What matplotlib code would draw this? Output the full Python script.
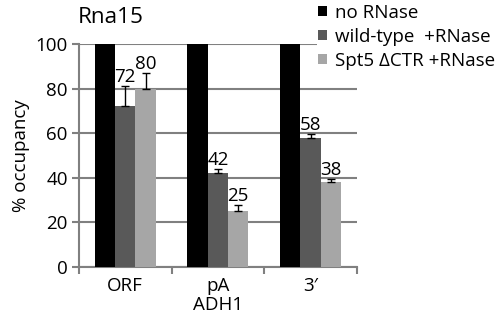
import numpy as np
import matplotlib as mpl
mpl.use("Agg")
import matplotlib.pyplot as plt

mpl.rcParams.update({
    "font.family": ["Open Sans", "DejaVu Sans"],
    "font.size": 13.5,
})

# data
regions = ["ORF", "pA", "3\u2032"]
series = ["no RNase", "wild-type  +RNase", "Spt5 \u0394CTR +RNase"]
no_rnase = [100, 100, 100]
wild_type = [72, 42, 58]
spt5 = [80, 25, 38]
wt_err = [9, 2, 1.5]
spt5_err = [7, 3, 1.5]
colors = ["#000000", "#595959", "#a6a6a6"]

fig = plt.figure(figsize=(5.02, 3.24), dpi=100)
ax = fig.add_axes([0.157, 0.176, 0.554, 0.688])

x = np.arange(len(regions))
w = 0.22
ax.bar(x - w, no_rnase, w, color=colors[0], label=series[0], zorder=3)
ax.bar(x, wild_type, w, color=colors[1], label=series[1], zorder=3)
ax.bar(x + w, spt5, w, color=colors[2], label=series[2], zorder=3)

ax.errorbar(x, wild_type, yerr=[np.zeros(3), wt_err], fmt="none", ecolor="black",
            elinewidth=1, capsize=3, capthick=1, zorder=4)
ax.errorbar(x + w, spt5, yerr=[np.zeros(3), spt5_err], fmt="none", ecolor="black",
            elinewidth=1, capsize=3, capthick=1, zorder=4)

for xi, v, e in zip(x, wild_type, wt_err):
    ax.text(xi, v + e, str(v), ha="center", va="bottom")
for xi, v, e in zip(x + w, spt5, spt5_err):
    ax.text(xi, v + e, str(v), ha="center", va="bottom")

ax.set_xlim(-0.5, 2.5)
ax.set_ylim(0, 100)
ax.set_yticks([0, 20, 40, 60, 80, 100])
ax.set_xticks(x)
ax.set_xticklabels(regions)
ax.set_xticks([-0.5, 0.5, 1.5, 2.5], minor=True)
ax.tick_params(axis="x", which="major", length=0, pad=7)
ax.tick_params(axis="x", which="minor", length=5, color="#808080", width=1.5)
ax.tick_params(axis="y", length=5, color="#808080", width=1.5, pad=3)

ax.yaxis.grid(True, color="#808080", linewidth=1.5, zorder=0)
for s in ["top", "right"]:
    ax.spines[s].set_visible(False)
for s in ["left", "bottom"]:
    ax.spines[s].set_color("#808080")
    ax.spines[s].set_linewidth(1.5)

ax.set_ylabel("% occupancy", labelpad=4)
ax.set_xlabel("ADH1", labelpad=1)
ax.set_title("Rna15", loc="left", x=-0.005, pad=15)

leg = ax.legend(loc="upper left", bbox_to_anchor=(0.855, 1.19), frameon=True,
                facecolor="white", edgecolor="none", framealpha=1,
                handlelength=0.45, handleheight=0.45, handletextpad=0.45,
                labelspacing=0.32, borderpad=0.1, borderaxespad=0)
leg.set_zorder(5)

fig.savefig("out.png", dpi=100)
